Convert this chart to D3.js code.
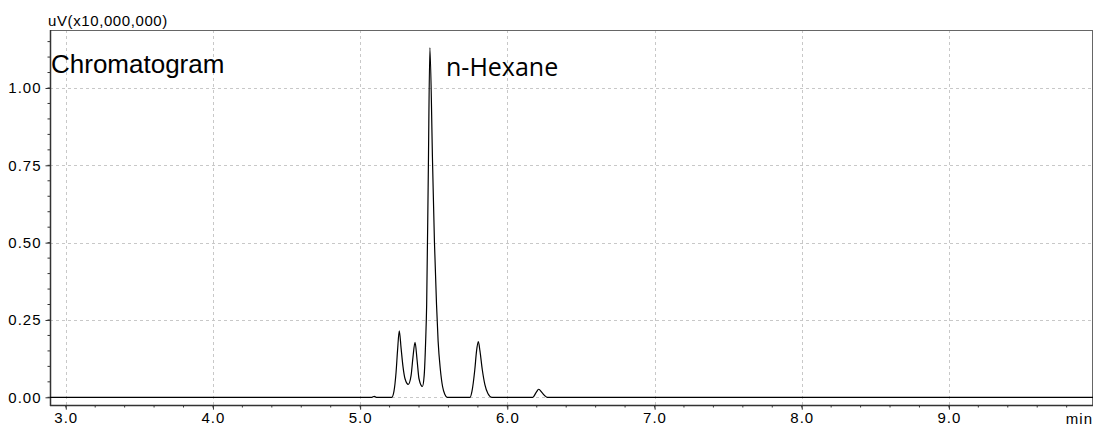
<!DOCTYPE html>
<html><head><meta charset="utf-8">
<script src="https://cdn.jsdelivr.net/npm/d3@7"></script>
<style>body{margin:0;background:#fff}svg{display:block}</style>
</head><body>
<svg id="c" width="1097" height="428"></svg>
<script>
// Chromatogram trace: retention time (min), signal (uV x 10,000,000)
const times = [2.893, 5.05, 5.08, 5.096, 5.11, 5.215, 5.230, 5.244, 5.254, 5.266, 5.278, 5.291, 5.305, 5.327,
  5.346, 5.359, 5.373, 5.387, 5.400, 5.423, 5.435, 5.445, 5.452, 5.463, 5.474, 5.492, 5.505, 5.519,
  5.530, 5.545, 5.560, 5.575, 5.592, 5.747, 5.760, 5.779, 5.791, 5.803, 5.814, 5.830, 5.848, 5.868, 5.894,
  6.173, 6.195, 6.213, 6.236, 6.253, 6.272, 9.979];
const signal = [0, 0, 0, 0.003, 0, 0, 0.02, 0.08, 0.15, 0.215, 0.16, 0.10, 0.06, 0.042,
  0.07, 0.13, 0.178, 0.12, 0.06, 0.035, 0.07, 0.18, 0.30, 0.72, 1.13, 0.76, 0.50, 0.30,
  0.18, 0.09, 0.035, 0.01, 0, 0, 0.02, 0.089, 0.15, 0.180, 0.15, 0.089, 0.04, 0.012, 0,
  0, 0.015, 0.026, 0.015, 0.006, 0, 0];
const xMajorTicks = [3, 4, 5, 6, 7, 8, 9];
const yMajorTicks = [0, 0.25, 0.5, 0.75, 1.0];
const yTickLabels = ["0.00", "0.25", "0.50", "0.75", "1.00"];
const xTickLabels = ["3.0", "4.0", "5.0", "6.0", "7.0", "8.0", "9.0"];
const xDomain = [2.893, 9.979];
const yDomain = [-0.0281, 1.1875];
const yUnitLabel = "uV(x10,000,000)";
const xUnitLabel = "min";
const titleLabel = "Chromatogram";
const peakLabel = "n-Hexane";

const svg = d3.select("#c");
const L = 50, R = 1093, T = 30, B = 406;
const x = d3.scaleLinear().domain(xDomain).range([L, R]);
const y = d3.scaleLinear().domain(yDomain).range([B, T]);

// grid
const grid = svg.append("g").attr("stroke", "#c8c8c8").attr("stroke-width", 1).attr("stroke-dasharray", "3,3");
grid.selectAll("line.v").data(xMajorTicks).join("line").attr("class", "v")
  .attr("x1", d => Math.round(x(d)) + 0.5).attr("x2", d => Math.round(x(d)) + 0.5)
  .attr("y1", T).attr("y2", B + 4);
grid.selectAll("line.h").data(yMajorTicks).join("line").attr("class", "h")
  .attr("y1", d => Math.round(y(d)) + 0.5).attr("y2", d => Math.round(y(d)) + 0.5)
  .attr("x1", L).attr("x2", R);

// frame
svg.append("line").attr("x1", L).attr("x2", R).attr("y1", T + 0.5).attr("y2", T + 0.5).attr("stroke", "#666").attr("stroke-width", 1);
svg.append("line").attr("x1", R - 0.5).attr("x2", R - 0.5).attr("y1", T).attr("y2", B).attr("stroke", "#666").attr("stroke-width", 1);

// axes
const fontAx = "'Liberation Sans', Arial, sans-serif";
const yMinor = d3.range(0, 1.1875, 0.05);
const yAxis = d3.axisLeft(y).tickValues(yMajorTicks).tickFormat((d, i) => yTickLabels[i]).tickSize(5).tickPadding(4);
const gy = svg.append("g").attr("transform", `translate(${L + 0.5},0)`).call(yAxis);
gy.selectAll(".tick line").attr("stroke", "#333");
gy.append("g").selectAll("line").data(yMinor).join("line")
  .attr("x1", -3).attr("x2", 0).attr("y1", d => y(d)).attr("y2", d => y(d)).attr("stroke", "#333");
const xMinor = d3.range(2.2, 9.99, 0.2).filter(d => d >= xDomain[0]);
const xAxis = d3.axisBottom(x).tickValues(xMajorTicks).tickFormat((d, i) => xTickLabels[i]).tickSize(4).tickPadding(3);
const gx = svg.append("g").attr("transform", `translate(0,${B - 0.5})`).call(xAxis);
gx.selectAll(".tick line").attr("stroke", "#333");
gx.append("g").selectAll("line").data(xMinor).join("line")
  .attr("y1", 0).attr("y2", 2).attr("x1", d => x(d)).attr("x2", d => x(d)).attr("stroke", "#333");
[gx, gy].forEach(g => {
  g.select(".domain").attr("stroke", "#333").attr("stroke-width", 1.5);
  g.selectAll("text").attr("font-family", fontAx).attr("font-size", 15).attr("fill", "#000").attr("letter-spacing", "1px");
});
gy.select(".domain").attr("d", `M0,${T}V${B}`);
gx.select(".domain").attr("d", `M${L},0H${R}`);

// trace
const pts = times.map((t, i) => [t, signal[i]]);
svg.append("path").datum(pts)
  .attr("d", d3.line().x(d => x(d[0])).y(d => y(d[1])).curve(d3.curveMonotoneX))
  .attr("fill", "none").attr("stroke", "#000").attr("stroke-width", 1.2);

// texts
svg.append("text").attr("x", 48).attr("y", 26).text(yUnitLabel)
  .attr("font-family", fontAx).attr("font-size", 15).attr("letter-spacing", "0.6px");
svg.append("text").attr("x", R).attr("y", 424).attr("text-anchor", "end").text(xUnitLabel)
  .attr("font-family", fontAx).attr("font-size", 15).attr("letter-spacing", "1px");
svg.append("text").attr("x", 51).attr("y", 73).text(titleLabel)
  .attr("font-family", fontAx).attr("font-size", 26);
svg.append("text").attr("x", 446).attr("y", 76).text(peakLabel)
  .attr("font-family", "'Open Sans', sans-serif").attr("font-size", 25);
</script>
</body></html>
